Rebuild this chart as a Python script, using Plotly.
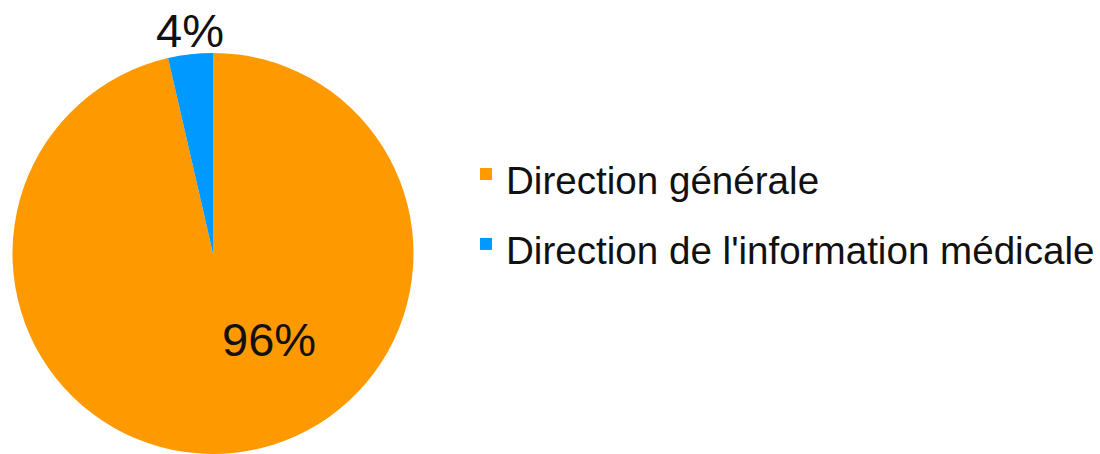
import plotly.graph_objects as go

labels = ["Direction générale", "Direction de l'information médicale"]
values = [96.4, 3.6]
colors = ["#FF9900", "#0099FF"]

total = sum(values)
pct_text = [f"{v / total * 100:.0f}%" for v in values]

W, H = 1100, 454

fig = go.Figure()
fig.add_trace(go.Pie(
    labels=[f'<span style="font-size:38.6px">{l}</span>' for l in labels],
    values=values, sort=False, direction="clockwise", rotation=0,
    marker=dict(colors=colors, line=dict(width=0)),
    textinfo="none", hoverinfo="percent",
    domain=dict(x=[12 / W, 414 / W], y=[0, 1 - 53 / H]),
))

# percentage labels placed like the original chart
fig.add_annotation(x=269 / W, y=1 - 339 / H, xref="paper", yref="paper",
                   xanchor="center", yanchor="middle",
                   text=pct_text[0], showarrow=False, font=dict(size=47, color="#111111"))
fig.add_annotation(x=190 / W, y=1 - 31 / H, xref="paper", yref="paper",
                   xanchor="center", yanchor="middle",
                   text=pct_text[1], showarrow=False, font=dict(size=47, color="#111111"))

fig.update_layout(
    width=W, height=H,
    margin=dict(l=0, r=0, t=0, b=0, autoexpand=False),
    paper_bgcolor="white",
    font=dict(family="Liberation Sans, Arial, sans-serif", color="#111111"),
    # big legend font only sets the row spacing; labels use a smaller span size
    legend=dict(x=466 / W, y=1 - 209 / H, xanchor="left", yanchor="middle",
                font=dict(size=51.5), bgcolor="rgba(0,0,0,0)"),
)

# drop the default page margin so the figure sits at the window origin
fig.write_html("out.html", config={"displayModeBar": False},
               post_script="document.body.style.margin='0';")
